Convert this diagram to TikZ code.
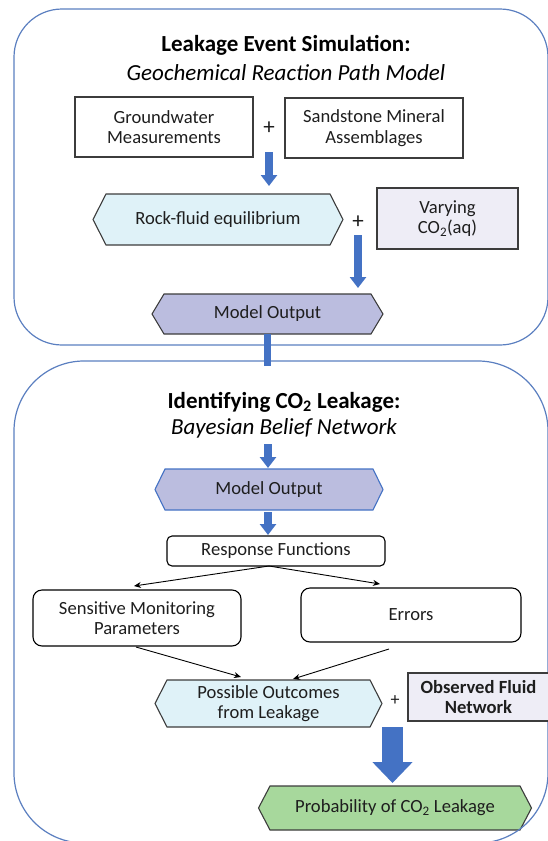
\documentclass[tikz,border=0pt]{standalone}
\usepackage{fontspec}
\setmainfont{Carlito}
\usetikzlibrary{arrows.meta,calc,backgrounds}
\definecolor{panelc}{HTML}{5B7FC0}
\definecolor{arrowblue}{HTML}{4472C4}
\definecolor{cyanfill}{HTML}{DFF2F8}
\definecolor{lavfill}{HTML}{EEEDF6}
\definecolor{mofill}{HTML}{BBBDDF}
\definecolor{greenfill}{HTML}{A7D89C}
\definecolor{edgec}{HTML}{3C3C3C}
\definecolor{txtc}{HTML}{1E1E1E}
\newcommand{\hexdraw}[4]{%
  \filldraw[fill=#3, draw=#4, line width=1.1pt, line join=miter]
    (#1.north west) -- (#1.north east) -- ($(#1.east)+(#2,0)$) --
    (#1.south east) -- (#1.south west) -- ($(#1.west)+(-#2,0)$) -- cycle;}
\tikzset{
  base/.style={font=\fontsize{18.6}{20.5}\selectfont, text=txtc, align=center,
    inner sep=0pt, outer sep=0pt},
  titletext/.style={base, font=\fontsize{23}{26}\selectfont, text=black},
  plussign/.style={base, font=\fontsize{23}{26}\selectfont},
  plainbox/.style={base, draw=edgec, line width=1.1pt},
  roundbox/.style={base, draw=black, line width=1.1pt},
  hexnode/.style={base},
  panelline/.style={draw=panelc, line width=1.2pt},
  bluearrow/.style={draw=arrowblue, line width=8pt, -{Triangle[width=16pt,length=11pt]}},
  bigarrow/.style={draw=arrowblue, line width=21pt, -{Triangle[width=39pt,length=21pt]}},
  bluelink/.style={draw=arrowblue, line width=7pt},
  thinarrow/.style={draw=black, line width=0.9pt, -{Stealth[length=7pt,width=6pt]}}
}
\begin{document}
\begin{tikzpicture}[x=1pt,y=-1pt]
\useasboundingbox (0,0) rectangle (547,841);
% panels
\draw[panelline, rounded corners=48pt] (14,9) rectangle (548,345);
\draw[panelline, rounded corners=70pt] (14,361) rectangle (548,843);

% top section
\node[titletext] (t1a) at (286,45) {\bfseries Leakage Event Simulation:};
\node[titletext] (t1b) at (286,73) {\itshape Geochemical Reaction Path Model};
\node[plainbox, minimum width=178, minimum height=60] (gw) at (164,127) {Groundwater\\Measurements};
\node[plussign] (plus1) at (269,128) {+};
\node[plainbox, minimum width=178, minimum height=60] (ss) at (374,128) {Sandstone Mineral\\Assemblages};
\node[hexnode, minimum width=224, minimum height=51] (rf) at (218,219.5) {Rock-fluid equilibrium};
\node[plussign] (plus2) at (358,222) {+};
\node[plainbox, fill=lavfill, minimum width=141, minimum height=61] (vc) at (447.5,218.5) {Varying\\CO\textsubscript{2}(aq)};
\node[hexnode, minimum width=207, minimum height=40] (mo1) at (267.5,314) {Model Output};
\coordinate (link) at (267.5,366);

% bottom section
\node[titletext] (t2a) at (284,402) {\bfseries Identifying CO\textsubscript{2} Leakage:};
\node[titletext] (t2b) at (284,428) {\itshape Bayesian Belief Network};
\node[hexnode, minimum width=208, minimum height=41] (mo2) at (269,489.5) {Model Output};
\node[roundbox, rounded corners=5pt, minimum width=218, minimum height=30] (rfn) at (276,551) {Response Functions};
\node[roundbox, rounded corners=9pt, minimum width=208, minimum height=56] (smp) at (137,618) {Sensitive Monitoring\\Parameters};
\node[roundbox, rounded corners=9pt, minimum width=220, minimum height=54] (err) at (411,615) {Errors};
\node[hexnode, minimum width=203, minimum height=47] (po) at (268.5,703.5) {Possible Outcomes\\from Leakage};
\node[base, font=\fontsize{18}{20}\selectfont] (plus3) at (395,701) {+};
\node[plainbox, fill=lavfill, minimum width=141, minimum height=48] (ofn) at (478.5,697) {\bfseries Observed Fluid\\\bfseries Network};
\node[hexnode, minimum width=250, minimum height=44] (prob) at (395,808) {Probability of CO\textsubscript{2} Leakage};

\begin{scope}[on background layer]
  \hexdraw{rf}{13}{cyanfill}{edgec}
  \hexdraw{mo1}{12}{mofill}{edgec}
  \hexdraw{mo2}{10}{mofill}{arrowblue}
  \hexdraw{po}{12}{cyanfill}{edgec}
  \hexdraw{prob}{11.5}{greenfill}{edgec}
\end{scope}

% connectors
\draw[bluearrow] ($(plus1)+(0,24)$) -- ($(plus1 |- rf.north)+(0,-8)$);
\draw[bluearrow] ($(plus2)+(0,13)$) -- ($(plus2 |- mo1.north)+(0,-6)$);
\draw[bluelink] (mo1.south) -- (link);
\draw[bluearrow] ($(mo2.north)+(-1,-25)$) -- ($(mo2.north)+(-1,-1)$);
\draw[bluearrow] ($(mo2.south)+(-1,2)$) -- ($(mo2.south |- rfn.north)+(-1,-1)$);
\draw[thinarrow] ($(rfn.south)+(-7,0)$) -- ($(smp.north)+(-3,-4)$);
\draw[thinarrow] ($(rfn.south)+(-7,0)$) -- ($(err.north)+(-31,-4)$);
\draw[thinarrow] ($(smp.south)+(-1,1)$) -- ($(po.north)+(-27.5,-3)$);
\draw[thinarrow] ($(err.south)+(-22,7)$) -- ($(po.north)+(24.5,-1)$);
\draw[bigarrow] ($(prob.north |- po.south)+(-2.5,0)$) -- ($(prob.north)+(-2.5,-3)$);
\end{tikzpicture}
\end{document}
